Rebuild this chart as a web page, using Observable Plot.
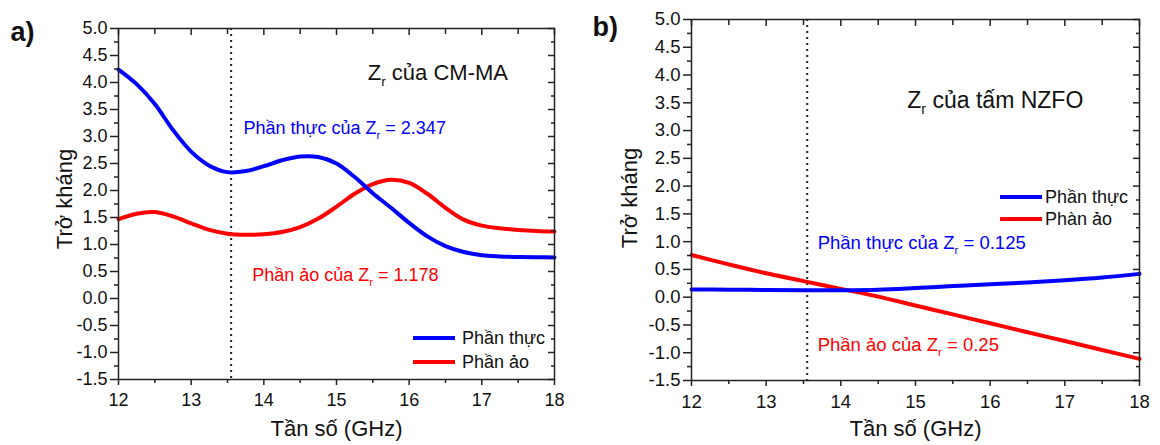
<!DOCTYPE html>
<html><head><meta charset="utf-8">
<script src="https://cdn.jsdelivr.net/npm/d3@7"></script>
<script src="https://cdn.jsdelivr.net/npm/@observablehq/plot@0.6"></script>
<style>
body{margin:0;background:#fff;}
#wrap{display:flex;width:1160px;height:445px;overflow:hidden;}
#wrap svg{display:block;overflow:visible;}
</style></head><body><div id="wrap"></div>
<script>
// ---- Data ----
const freqA = [12,12.25,12.5,12.75,13,13.25,13.5,13.75,14,14.25,14.5,14.75,15,15.25,15.5,15.75,16,16.25,16.5,16.75,17,17.25,17.5,17.75,18];
const realA = [4.24,3.97,3.6,3.12,2.72,2.46,2.34,2.36,2.45,2.56,2.63,2.62,2.5,2.25,1.95,1.68,1.4,1.15,0.97,0.86,0.8,0.78,0.77,0.765,0.76];
const imagA = [1.47,1.57,1.6,1.52,1.39,1.27,1.2,1.18,1.19,1.23,1.32,1.48,1.7,1.94,2.12,2.2,2.14,1.94,1.68,1.46,1.35,1.3,1.27,1.25,1.24];

const freqB = [12,12.5,13,13.5,14,14.5,15,15.5,16,16.5,17,17.5,18];
const realB = [0.14,0.135,0.13,0.125,0.125,0.135,0.165,0.2,0.235,0.265,0.305,0.355,0.42];
const imagB = [0.76,0.59,0.43,0.29,0.15,0.01,-0.15,-0.31,-0.47,-0.63,-0.79,-0.95,-1.11];

const markerFreq = [13.55];

const xMajorTicks = [12,13,14,15,16,17,18];
const xMinorTicks = [12.5,13.5,14.5,15.5,16.5,17.5];
const yMajorTicks = [-1.5,-1,-0.5,0,0.5,1,1.5,2,2.5,3,3.5,4,4.5,5];
const yMinorTicks = [-1.25,-0.75,-0.25,0.25,0.75,1.25,1.75,2.25,2.75,3.25,3.75,4.25,4.75];

const notesA = [
  {x:15.43, y:4.17, text:"Z_r của CM-MA", color:"#111", size:22},
  {x:13.72, y:3.15, text:"Phần thực của Z_r = 2.347", color:"#0000ff", size:18},
  {x:13.84, y:0.43, text:"Phần ảo của Z_r = 1.178", color:"#ff0000", size:18}
];
const notesB = [
  {x:14.89, y:3.54, text:"Z_r của tấm NZFO", color:"#111", size:23},
  {x:13.69, y:0.97, text:"Phần thực của Z_r = 0.125", color:"#0000ff", size:18.5},
  {x:13.69, y:-0.87, text:"Phần ảo của Z_r = 0.25", color:"#ff0000", size:18.5}
];
const legendA = [{label:"Phần thực", color:"#0000ff"}, {label:"Phần ảo", color:"#ff0000"}];
const legendB = [{label:"Phần thực", color:"#0000ff"}, {label:"Phàn ảo", color:"#ff0000"}];

const yLabel = "Trở kháng";
const xLabel = "Tần số (GHz)";

// ---- helpers ----
function legendMark(items, place) {
  return (index, scales, values, dims) => {
    const g = d3.create("svg:g").attr("text-anchor", "start");
    const right = dims.width - dims.marginRight;
    const top = dims.marginTop, bottom = dims.height - dims.marginBottom;
    items.forEach((it, i) => {
      const y = (place.fromTop != null ? top + place.fromTop : bottom - place.fromBottom) + i * place.step;
      g.append("line").attr("x1", right - place.lineFrom).attr("x2", right - place.lineTo)
        .attr("y1", y).attr("y2", y).attr("stroke", it.color).attr("stroke-width", 4);
      g.append("text").attr("x", right - place.textAt).attr("y", y).attr("dy", "0.35em")
        .attr("text-anchor", "start")
        .attr("font-size", 18).attr("fill", "#111").text(it.label);
    });
    return g.node();
  };
}

function subscriptify(svg) {
  svg.querySelectorAll("text").forEach(t => {
    const s = t.textContent;
    if (!s.includes("Z_r")) return;
    const [a, b] = s.split("Z_r");
    while (t.firstChild) t.removeChild(t.firstChild);
    const ns = "http://www.w3.org/2000/svg";
    const t1 = document.createElementNS(ns, "tspan"); t1.textContent = a + "Z";
    const t2 = document.createElementNS(ns, "tspan"); t2.textContent = "r";
    t2.setAttribute("font-size", "0.62em"); t2.setAttribute("dy", "0.42em");
    const t3 = document.createElementNS(ns, "tspan"); t3.textContent = b;
    t3.setAttribute("dy", "-0.26em");
    t.append(t1, t2, t3);
  });
}

function panel(cfg) {
  const real = cfg.freq.map((f, i) => ({f, v: cfg.real[i]}));
  const imag = cfg.freq.map((f, i) => ({f, v: cfg.imag[i]}));
  const fmt = d => d.toFixed(1);
  const axisCol = "#222";
  const svg = Plot.plot({
    width: 580, height: 445,
    marginLeft: cfg.m[0], marginRight: cfg.m[1], marginTop: cfg.m[2], marginBottom: cfg.m[3],
    style: {fontFamily: "'Liberation Sans', Arial, sans-serif", fontSize: "18px", color: "#111", background: "#fff", overflow: "visible"},
    x: {domain: [12, 18], axis: null},
    y: {domain: [-1.5, 5], axis: null},
    marks: [
      Plot.ruleX(markerFreq, {stroke: "#222", strokeWidth: 2, strokeDasharray: "2,4"}),
      Plot.line(imag, {x: "f", y: "v", stroke: "#ff0000", strokeWidth: 4, curve: "catmull-rom"}),
      Plot.line(real, {x: "f", y: "v", stroke: "#0000ff", strokeWidth: 4, curve: "catmull-rom"}),
      Plot.frame({stroke: axisCol, strokeWidth: 1.5}),
      Plot.axisY(yMajorTicks, {anchor: "left", tickSize: 8, tickPadding: 3, tickFormat: fmt, label: null, stroke: axisCol, strokeWidth: 1.5, fill: "#111", fontSize: cfg.tickFont}),
      Plot.axisY(yMinorTicks, {anchor: "left", tickSize: 4, fill: null, label: null, stroke: axisCol, strokeWidth: 1.5}),
      Plot.axisY(yMajorTicks, {anchor: "right", tickSize: 7, dx: -7, fill: null, label: null, stroke: axisCol, strokeWidth: 1.5}),
      Plot.axisY(yMinorTicks, {anchor: "right", tickSize: 4, dx: -4, fill: null, label: null, stroke: axisCol, strokeWidth: 1.5}),
      Plot.axisX(xMajorTicks, {anchor: "bottom", tickSize: 6, tickPadding: 8, tickFormat: d => String(d), label: null, stroke: axisCol, strokeWidth: 1.5, fill: "#111", fontSize: cfg.tickFont}),
      Plot.axisX(xMinorTicks, {anchor: "bottom", tickSize: 4, fill: null, label: null, stroke: axisCol, strokeWidth: 1.5}),
      Plot.axisX(xMajorTicks, {anchor: "top", tickSize: 6, dy: 6, fill: null, label: null, stroke: axisCol, strokeWidth: 1.5}),
      Plot.axisX(xMinorTicks, {anchor: "top", tickSize: 5, dy: 5, fill: null, label: null, stroke: axisCol, strokeWidth: 1.5}),
      Plot.text(cfg.notes, {x: "x", y: "y", text: "text", fill: "color", fontSize: "size", textAnchor: "start", lineAnchor: "middle"}),
      Plot.text([yLabel], {frameAnchor: "left", rotate: -90, dx: cfg.yLab[0], dy: cfg.yLab[1], fontSize: 22, textAnchor: "middle", lineAnchor: "middle", fill: "#111"}),
      Plot.text([xLabel], {frameAnchor: "bottom", dy: cfg.xLabDy, fontSize: 22, textAnchor: "middle", lineAnchor: "middle", fill: "#111"}),
      Plot.text([cfg.tag], {frameAnchor: "top-left", dx: cfg.tagPos[0], dy: cfg.tagPos[1], fontSize: 27, fontWeight: "bold", textAnchor: "start", lineAnchor: "middle", fill: "#111"}),
      legendMark(cfg.legend, cfg.legendPlace)
    ]
  });
  subscriptify(svg);
  return svg;
}

const wrap = document.getElementById("wrap");
wrap.append(panel({
  freq: freqA, real: realA, imag: imagA, notes: notesA, legend: legendA, tag: "a)",
  m: [118, 26, 28, 66], tickFont: 18,
  yLab: [-54, -5], xLabDy: 49, tagPos: [-108, 4],
  legendPlace: {fromBottom: 41, step: 24, lineFrom: 141, lineTo: 99, textAt: 92}
}));
wrap.append(panel({
  freq: freqB, real: realB, imag: imagB, notes: notesB, legend: legendB, tag: "b)",
  m: [111, 21, 19, 65], tickFont: 18.5,
  yLab: [-62, -2], xLabDy: 48, tagPos: [-99, 8],
  legendPlace: {fromTop: 178, step: 22, lineFrom: 139, lineTo: 97, textAt: 94}
}));
</script></body></html>
